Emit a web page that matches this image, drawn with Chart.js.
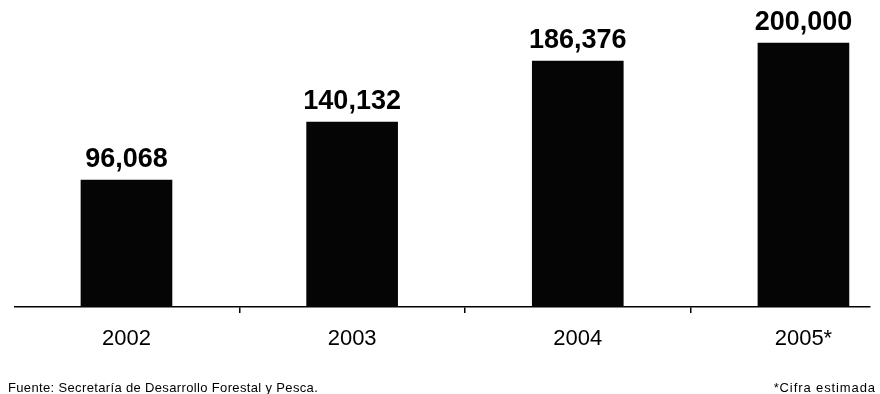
<!DOCTYPE html>
<html><head><meta charset="utf-8">
<script src="https://cdn.jsdelivr.net/npm/chart.js@4/dist/chart.umd.min.js"></script>
<style>
html,body{margin:0;padding:0;background:#fff;}
#wrap{position:relative;width:880px;height:394px;}
canvas{position:absolute;left:0;top:0;}
.foot{position:absolute;top:380px;font-family:"Liberation Sans",Arial,sans-serif;font-size:13px;line-height:15px;color:#000;white-space:nowrap;}
</style></head>
<body>
<div id="wrap">
<canvas id="c" width="880" height="394"></canvas>
<div class="foot" style="left:8px;letter-spacing:0.35px;">Fuente: Secretaría de Desarrollo Forestal y Pesca.</div>
<div class="foot" style="right:4px;letter-spacing:0.9px;">*Cifra estimada</div>
</div>
<script>
const years = ["2002", "2003", "2004", "2005*"];
const values = [96068, 140132, 186376, 200000];
const valueLabels = ["96,068", "140,132", "186,376", "200,000"];

const points = values.map((v, i) => ({x: i, y: v}));

const labelPlugin = {
  id: 'valueLabels',
  afterDatasetsDraw(chart) {
    const ctx = chart.ctx;
    const meta = chart.getDatasetMeta(0);
    ctx.save();
    ctx.font = 'bold 27px "Liberation Sans", Arial, sans-serif';
    ctx.fillStyle = '#000';
    ctx.textAlign = 'center';
    ctx.textBaseline = 'alphabetic';
    meta.data.forEach((el, i) => {
      ctx.fillText(valueLabels[i], el.x, el.y - 13);
    });
    ctx.restore();
  }
};

new Chart(document.getElementById('c'), {
  type: 'bar',
  data: {
    datasets: [{
      data: points,
      backgroundColor: '#050505',
      borderWidth: 0,
      barThickness: 91
    }]
  },
  options: {
    responsive: false,
    animation: false,
    plugins: { legend: {display: false}, tooltip: {enabled: false} },
    layout: { padding: {left: 15, right: 10, top: 10, bottom: 0} },
    scales: {
      x: {
        type: 'linear',
        offset: false,
        bounds: 'ticks',
        min: -0.494,
        max: 3.295,
        afterBuildTicks(scale) {
          const t = [];
          years.forEach((y, i) => { t.push({value: i}); if (i < years.length - 1) t.push({value: i + 0.5}); });
          scale.ticks = t;
        },
        afterFit(scale) { scale.height = 87; },
        grid: {
          display: true,
          offset: false,
          drawOnChartArea: false,
          drawTicks: true,
          tickLength: 6,
          lineWidth: 1.5,
          color: (c) => (c.tick && Number.isInteger(c.tick.value)) ? 'rgba(0,0,0,0)' : '#000'
        },
        border: { display: true, color: '#000', width: 1.5 },
        ticks: {
          padding: 13,
          color: '#000',
          autoSkip: false,
          maxRotation: 0,
          font: { family: '"Liberation Sans", Arial, sans-serif', size: 22 },
          callback: (v) => Number.isInteger(v) && years[v] !== undefined ? years[v] : ''
        }
      },
      y: {
        display: false,
        min: 0,
        max: 225000
      }
    }
  },
  plugins: [labelPlugin]
});
</script>
</body></html>
